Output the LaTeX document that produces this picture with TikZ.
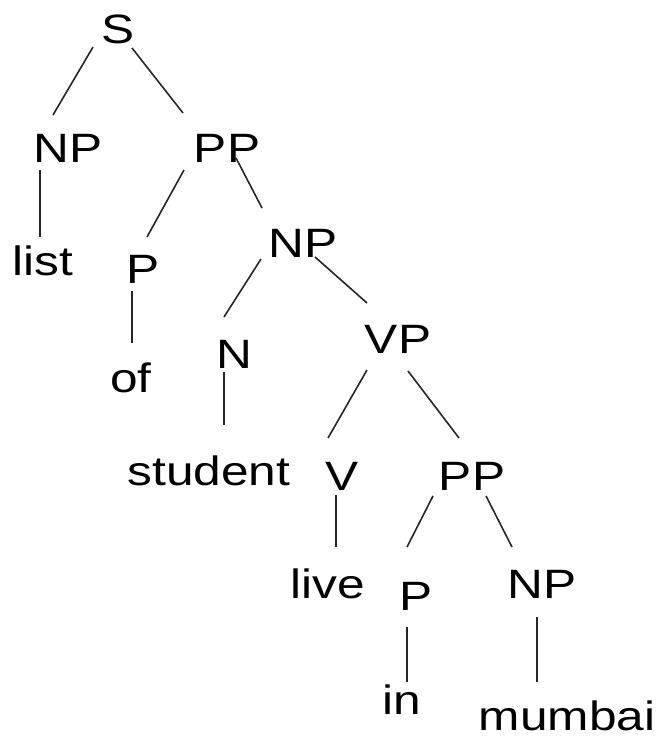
\documentclass[tikz,border=0pt]{standalone}
\usepackage{fontspec}
\newfontfamily\treefont{Liberation Sans}[FakeStretch=1.21]
\begin{document}
\begin{tikzpicture}[x=1pt,y=-1pt,
  lbl/.style={anchor=base,inner sep=0pt,font=\treefont\fontsize{41}{41}\selectfont},
  edge/.style={line width=1.6pt,black!85}]
\useasboundingbox (0,0) rectangle (659,736);
\node[lbl] (S) at (118,43) {S};
\node[lbl] (np1) at (68,162) {NP};
\node[lbl] (pp1) at (227,162) {PP};
\node[lbl] (list) at (43,275) {list};
\node[lbl] (p1) at (143,283) {P};
\node[lbl] (np2) at (303,257) {NP};
\node[lbl] (of) at (131,392) {of};
\node[lbl] (n) at (234,368) {N};
\node[lbl] (vp) at (398,353) {VP};
\node[lbl] (student) at (209,485) {student};
\node[lbl] (v) at (342,490) {V};
\node[lbl] (pp2) at (472,490) {PP};
\node[lbl] (live) at (328,598) {live};
\node[lbl] (p2) at (416,610) {P};
\node[lbl] (np3) at (542,598) {NP};
\node[lbl] (in) at (402,714) {in};
\node[lbl] (mumbai) at (567,730) {mumbai};
\draw[edge] ([shift={(-25,4)}]S.base) -- ([shift={(-15,-47)}]np1.base);
\draw[edge] ([shift={(14,5)}]S.base) -- ([shift={(-44,-49)}]pp1.base);
\draw[edge] ([shift={(-28,8)}]np1.base) -- ([shift={(-3,-38)}]list.base);
\draw[edge] ([shift={(-43,8)}]pp1.base) -- ([shift={(4,-46)}]p1.base);
\draw[edge] ([shift={(9,-4)}]pp1.base) -- ([shift={(-41,-49)}]np2.base);
\draw[edge] ([shift={(-11,8)}]p1.base) -- ([shift={(1,-49)}]of.base);
\draw[edge] ([shift={(-42,2)}]np2.base) -- ([shift={(-10,-51)}]n.base);
\draw[edge] ([shift={(12,0)}]np2.base) -- ([shift={(-31,-50)}]vp.base);
\draw[edge] ([shift={(-10,4)}]n.base) -- ([shift={(15,-60)}]student.base);
\draw[edge] ([shift={(-31,17)}]vp.base) -- ([shift={(-14,-52)}]v.base);
\draw[edge] ([shift={(10,18)}]vp.base) -- ([shift={(-13,-52)}]pp2.base);
\draw[edge] ([shift={(-6,5)}]v.base) -- ([shift={(8,-51)}]live.base);
\draw[edge] ([shift={(-39,6)}]pp2.base) -- ([shift={(-9,-63)}]p2.base);
\draw[edge] ([shift={(14,6)}]pp2.base) -- ([shift={(-30,-51)}]np3.base);
\draw[edge] ([shift={(-9,17)}]p2.base) -- ([shift={(5,-32)}]in.base);
\draw[edge] ([shift={(-5,19)}]np3.base) -- ([shift={(-30,-48)}]mumbai.base);
\end{tikzpicture}
\end{document}
